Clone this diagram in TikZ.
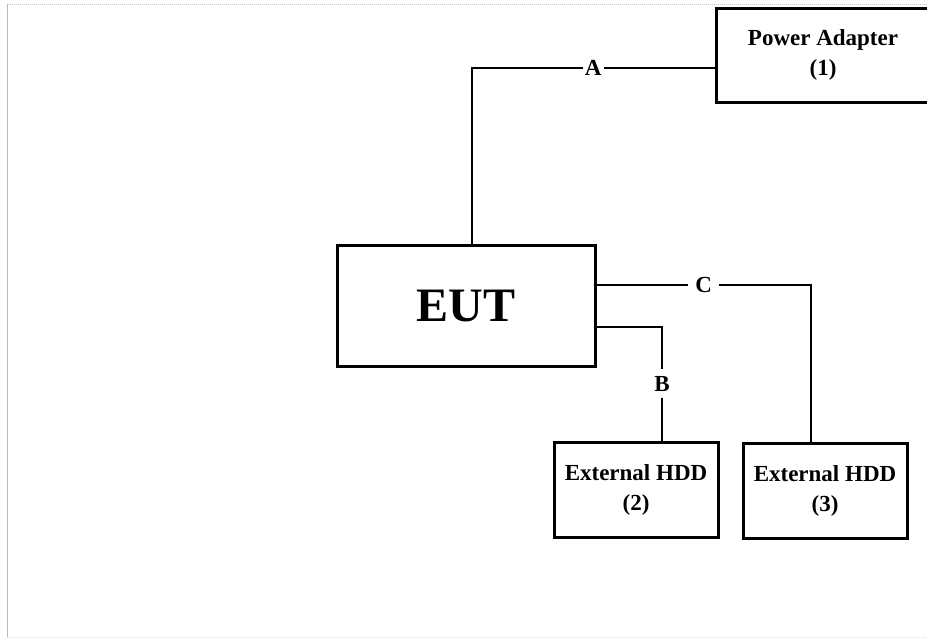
\documentclass[tikz,border=0pt]{standalone}
\usepackage{fontspec}
\setmainfont{Liberation Serif}

\begin{document}
\begin{tikzpicture}[
    x=1pt, y=-1pt,
    unit/.style={
        rectangle,
        draw,
        line width=3pt,
        inner sep=0pt,
        align=center,
        node font={\bfseries\fontsize{23}{30}\selectfont}},
    wire/.style={line width=2.6pt},
    tag/.style={
        fill=white,
        inner sep=7pt,
        node font={\bfseries\fontsize{23}{30}\selectfont}}]
    \useasboundingbox (0,0) rectangle (927,641);
    \clip (0,0) rectangle (927,641);

    \draw[gray!55, line width=1pt] (7,4) -- (7,637);
    \draw[gray!45, line width=1pt, densely dotted] (927,4) -- (7,4);
    \draw[gray!25, line width=1pt, densely dotted] (7,637) -- (927,637);

    \node[
        unit,
        minimum width=214pt,
        minimum height=94pt]
        (PA) at (823,55) {Power Adapter\\(1)};

    \node[
        unit,
        minimum width=258pt,
        minimum height=121pt,
        node font={\bfseries\fontsize{48}{56}\selectfont}]
        (EUT) at (466,305.5) {EUT};

    \node[
        unit,
        minimum width=164pt,
        minimum height=95pt]
        (HDDb) at (636,489.5) {External HDD\\(2)};

    \node[
        unit,
        minimum width=164pt,
        minimum height=95pt]
        (HDDc) at (825,490.5) {External HDD\\(3)};

    \coordinate (aBend) at (472,68);
    \coordinate (bBend) at (662,327);
    \coordinate (cBend) at (811,285);

    \draw[wire] (PA.west |- aBend) -- node[tag, inner sep=2pt] {A} (aBend) -- (aBend |- EUT.north);
    \draw[wire] (EUT.east |- bBend) -- (bBend) -- node[tag] {B} (bBend |- HDDb.north);
    \draw[wire] (EUT.east |- cBend) -- node[tag] {C} (cBend) -- (cBend |- HDDc.north);
\end{tikzpicture}
\end{document}
